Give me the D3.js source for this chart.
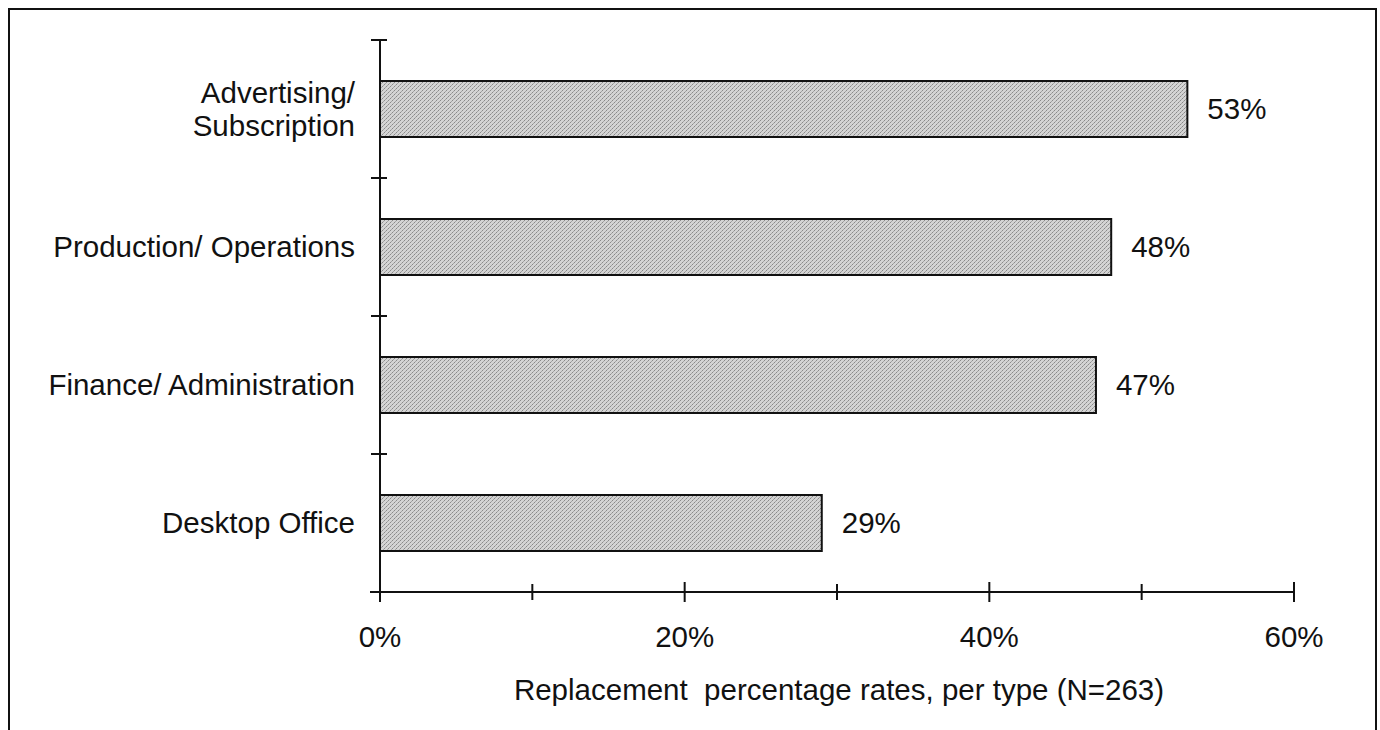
<!DOCTYPE html>
<html><head><meta charset="utf-8">
<script src="https://cdn.jsdelivr.net/npm/d3@7"></script>
<style>body{margin:0;background:#fff}svg{display:block}text{font-family:Arial,"Liberation Sans",sans-serif;fill:#111}</style>
</head><body>
<svg id="c" width="1380" height="730"></svg>
<script>
const categories = ["Advertising/\nSubscription","Production/ Operations","Finance/ Administration","Desktop Office"];
const values = [53,48,47,29];
const xTicks = [0,20,40,60];
const xMinorTicks = [10,30,50];
const xTitle = "Replacement  percentage rates, per type (N=263)";

const FS = 29.5;
const svg = d3.select("#c");
const defs = svg.append("defs");
const pat = defs.append("pattern").attr("id","tex").attr("width",4).attr("height",4).attr("patternUnits","userSpaceOnUse");
pat.append("rect").attr("width",4).attr("height",4).attr("fill","#d4d4d4");
pat.append("rect").attr("x",0).attr("y",0).attr("width",1).attr("height",1).attr("fill","#8a8a8a");
pat.append("rect").attr("x",2).attr("y",2).attr("width",1).attr("height",1).attr("fill","#8a8a8a");
pat.append("rect").attr("x",1).attr("y",3).attr("width",1).attr("height",1).attr("fill","#a5a5a5");
pat.append("rect").attr("x",3).attr("y",1).attr("width",1).attr("height",1).attr("fill","#a5a5a5");

svg.append("rect").attr("x",9).attr("y",9).attr("width",1367).attr("height",740)
  .attr("fill","none").attr("stroke","#111").attr("stroke-width",2);

const x = d3.scaleLinear().domain([0,60]).range([380,1294]);
const band = d3.scaleBand().domain(categories).range([40,592]);

// bars
svg.selectAll("rect.bar").data(values).join("rect").attr("class","bar")
  .attr("x",x(0)).attr("y",(d,i)=>band(categories[i])+band.bandwidth()/2-28)
  .attr("width",d=>x(d)-x(0)).attr("height",56)
  .attr("fill","url(#tex)").attr("stroke","#111").attr("stroke-width",2);

// value labels
svg.selectAll("text.val").data(values).join("text").attr("class","val")
  .attr("x",d=>x(d)+20).attr("y",(d,i)=>band(categories[i])+band.bandwidth()/2)
  .attr("dy","0.35em").attr("font-size",FS).text(d=>d+"%");

// y axis line and ticks
const ax = svg.append("g").attr("stroke","#111").attr("stroke-width",2);
ax.append("line").attr("x1",x(0)).attr("x2",x(0)).attr("y1",40).attr("y2",592);
const yTickPos = categories.map(c=>band(c)).concat([592]);
ax.selectAll("line.yt").data(yTickPos).join("line").attr("class","yt")
  .attr("x1",x(0)-9).attr("x2",x(0)+7).attr("y1",d=>d).attr("y2",d=>d);

// x axis
ax.append("line").attr("x1",x(0)-10).attr("x2",x(60)).attr("y1",592).attr("y2",592);
ax.selectAll("line.xt").data(xTicks).join("line").attr("class","xt")
  .attr("x1",d=>x(d)).attr("x2",d=>x(d)).attr("y1",582).attr("y2",602);
ax.selectAll("line.xm").data(xMinorTicks).join("line").attr("class","xm")
  .attr("x1",d=>x(d)).attr("x2",d=>x(d)).attr("y1",584).attr("y2",600);

svg.selectAll("text.xl").data(xTicks).join("text").attr("class","xl")
  .attr("x",d=>x(d)).attr("y",637).attr("dy","0.35em").attr("text-anchor","middle")
  .attr("font-size",FS).text(d=>d+"%");

svg.append("text").attr("x",839).attr("y",690).attr("dy","0.35em").attr("text-anchor","middle")
  .attr("font-size",FS).attr("xml:space","preserve").style("white-space","pre").text(xTitle);

// category labels
categories.forEach(c=>{
  const lines = c.split("\n");
  const cy = band(c)+band.bandwidth()/2;
  const t = svg.append("text").attr("x",355).attr("text-anchor","end").attr("font-size",FS);
  lines.forEach((l,i)=>{
    t.append("tspan").attr("x",355).attr("y",cy+(i-(lines.length-1)/2)*33).attr("dy","0.35em").text(l);
  });
});
</script>
</body></html>
